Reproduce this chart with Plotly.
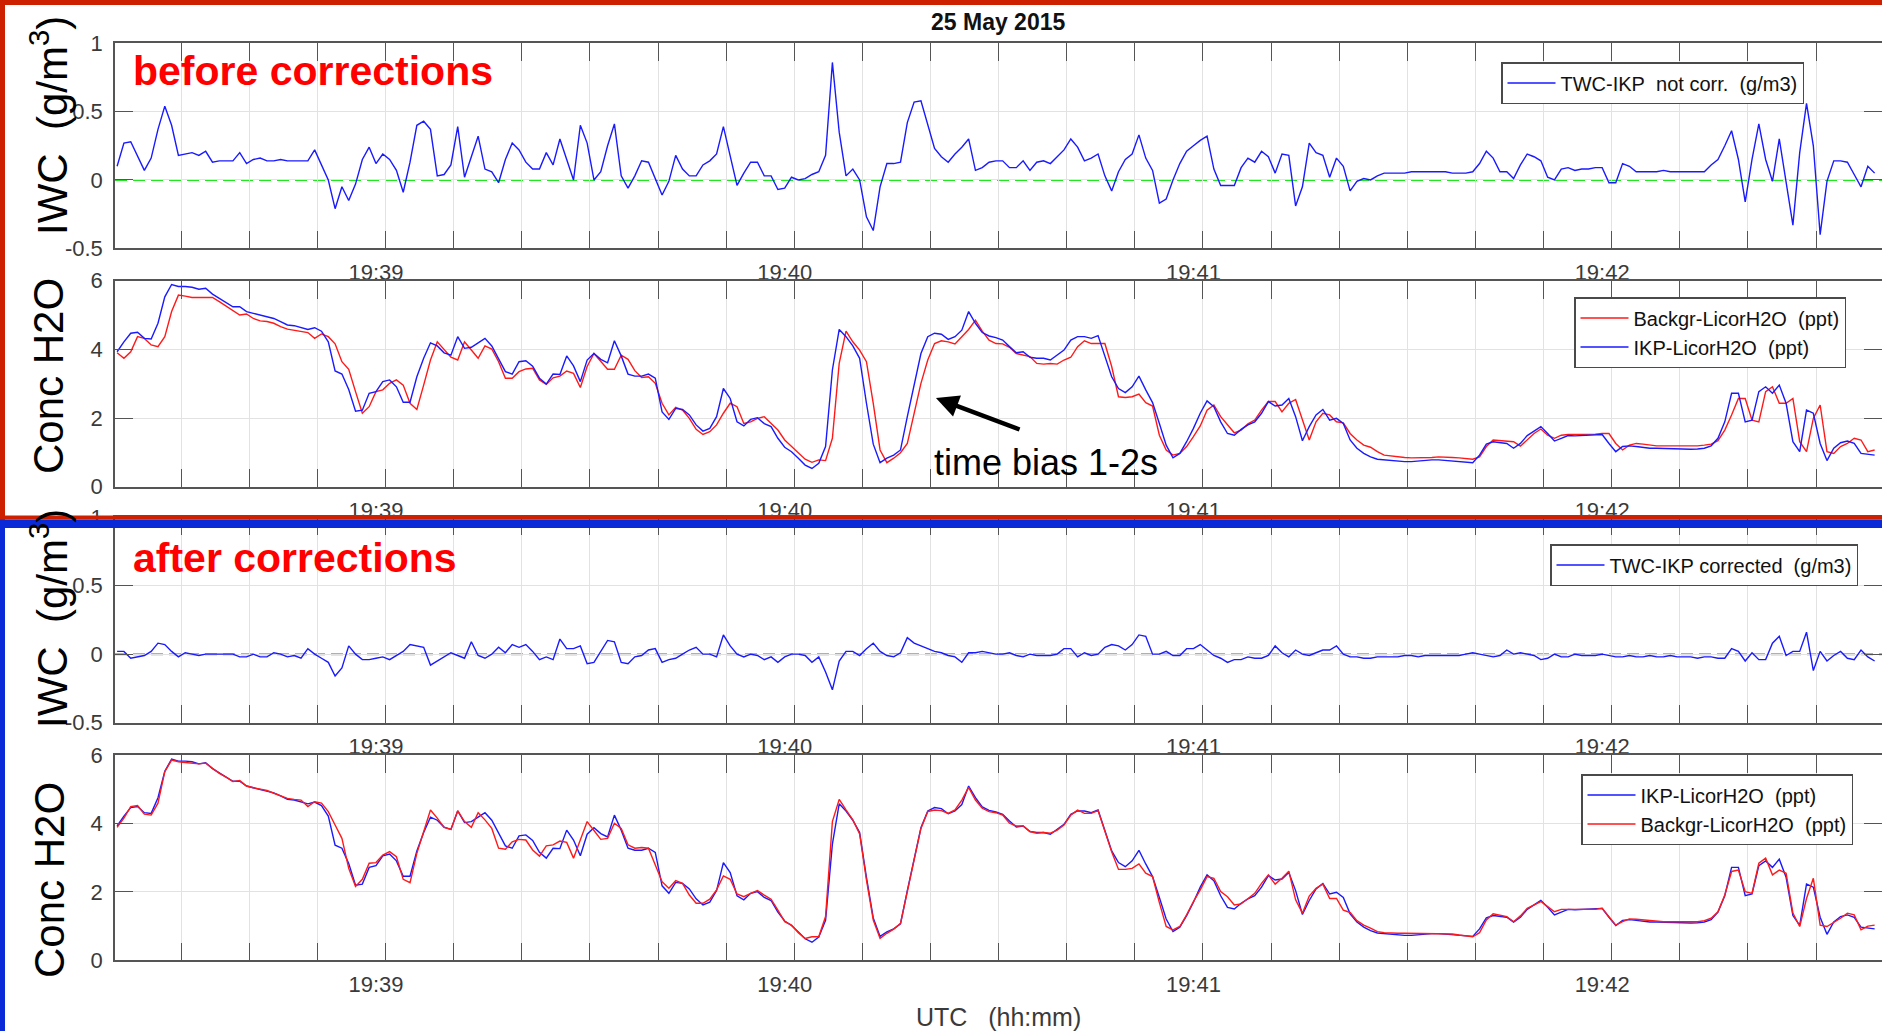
import plotly.graph_objects as go

# ---------------------------------------------------------------------------
# Data: 1 Hz samples, time in seconds after 19:38:00 UTC (25 May 2015)
# ---------------------------------------------------------------------------
t_sec = list(range(22, 281))

# TWC-IKP not corrected (g/m3)
iwc_not_corr = [
    0.10, 0.27, 0.28, 0.17, 0.07, 0.16, 0.37, 0.54, 0.40, 0.18,
    0.19, 0.20, 0.18, 0.21, 0.13, 0.14, 0.14, 0.14, 0.20, 0.12,
    0.15, 0.16, 0.14, 0.14, 0.15, 0.14, 0.14, 0.14, 0.14, 0.22,
    0.11, 0.00, -0.21, -0.05, -0.15, -0.03, 0.15, 0.24, 0.12, 0.19,
    0.15, 0.07, -0.09, 0.13, 0.40, 0.43, 0.37, 0.03, 0.04, 0.11,
    0.39, 0.02, 0.17, 0.32, 0.08, 0.06, -0.02, 0.15, 0.27, 0.22,
    0.13, 0.08, 0.08, 0.20, 0.11, 0.30, 0.15, 0.00, 0.40, 0.27,
    0.00, 0.06, 0.25, 0.41, 0.03, -0.06, 0.03, 0.14, 0.13, 0.01,
    -0.11, -0.01, 0.18, 0.08, 0.03, 0.03, 0.11, 0.14, 0.19, 0.39,
    0.17, -0.04, 0.05, 0.13, 0.13, 0.03, 0.03, -0.07, -0.06, 0.02,
    0.00, 0.01, 0.04, 0.06, 0.18, 0.86, 0.35, 0.03, 0.08, 0.00,
    -0.27, -0.37, -0.05, 0.12, 0.12, 0.13, 0.42, 0.57, 0.58, 0.40,
    0.23, 0.17, 0.13, 0.19, 0.24, 0.30, 0.07, 0.09, 0.13, 0.14,
    0.14, 0.09, 0.09, 0.14, 0.07, 0.13, 0.14, 0.12, 0.17, 0.22,
    0.30, 0.24, 0.14, 0.16, 0.19, 0.03, -0.08, 0.06, 0.15, 0.19,
    0.33, 0.16, 0.07, -0.17, -0.14, 0.00, 0.12, 0.21, 0.25, 0.29,
    0.32, 0.08, -0.04, -0.04, -0.04, 0.09, 0.16, 0.13, 0.21, 0.17,
    0.05, 0.19, 0.18, -0.19, -0.05, 0.27, 0.20, 0.18, 0.02, 0.16,
    0.10, -0.08, -0.01, 0.01, 0.00, 0.03, 0.05, 0.05, 0.05, 0.05,
    0.06, 0.06, 0.06, 0.06, 0.06, 0.06, 0.05, 0.05, 0.05, 0.06,
    0.12, 0.21, 0.16, 0.06, 0.06, 0.01, 0.11, 0.19, 0.17, 0.14,
    0.02, 0.00, 0.08, 0.09, 0.07, 0.08, 0.08, 0.09, 0.09, -0.02,
    -0.02, 0.12, 0.10, 0.06, 0.06, 0.06, 0.06, 0.07, 0.06, 0.06,
    0.06, 0.06, 0.06, 0.06, 0.11, 0.15, 0.25, 0.36, 0.15, -0.16,
    0.15, 0.41, 0.15, -0.01, 0.30, -0.02, -0.33, 0.20, 0.56, 0.25,
    -0.40, -0.01, 0.14, 0.14, 0.13, 0.04, -0.05, 0.10, 0.05,
]

# TWC-IKP corrected (g/m3)
iwc_corr = [
    0.02, 0.02, -0.03, -0.02, -0.01, 0.02, 0.08, 0.07, 0.02, -0.02,
    0.01, 0.00, -0.01, 0.00, 0.00, 0.00, 0.00, 0.00, -0.02, -0.02,
    0.00, -0.02, -0.02, 0.01, 0.00, -0.02, -0.01, -0.03, 0.04, 0.00,
    -0.03, -0.06, -0.16, -0.10, 0.06, 0.00, -0.04, -0.04, -0.03, -0.02,
    -0.04, -0.01, 0.02, 0.07, 0.06, 0.05, -0.08, -0.05, -0.02, 0.01,
    -0.01, -0.03, 0.09, -0.01, -0.03, 0.00, 0.05, 0.01, 0.07, 0.05,
    0.07, 0.02, -0.04, -0.02, -0.04, 0.11, 0.04, 0.04, 0.06, -0.07,
    -0.06, 0.02, 0.10, 0.09, -0.06, -0.07, -0.02, -0.01, 0.03, 0.04,
    -0.06, -0.04, -0.03, 0.00, 0.03, 0.05, 0.00, 0.00, -0.02, 0.14,
    0.06, 0.00, -0.02, 0.00, -0.01, -0.04, -0.02, -0.06, -0.02, 0.00,
    0.00, -0.01, -0.06, -0.02, -0.13, -0.26, -0.05, 0.02, 0.02, -0.01,
    0.04, 0.08, 0.02, -0.01, -0.02, 0.01, 0.12, 0.08, 0.06, 0.04,
    0.02, 0.01, -0.01, -0.02, -0.06, 0.01, 0.01, 0.02, 0.01, 0.00,
    0.00, 0.01, -0.01, -0.02, 0.00, -0.01, -0.01, -0.01, 0.00, 0.04,
    0.04, -0.02, 0.01, -0.01, 0.00, 0.05, 0.07, 0.06, 0.03, 0.07,
    0.14, 0.13, 0.00, 0.00, 0.02, -0.01, -0.01, 0.04, 0.04, 0.07,
    0.03, -0.01, -0.03, -0.06, -0.04, -0.04, -0.02, -0.03, -0.03, -0.01,
    0.06, 0.01, -0.02, 0.03, 0.00, -0.01, 0.01, 0.03, 0.03, 0.06,
    0.00, -0.02, -0.02, -0.03, -0.03, -0.02, -0.02, -0.02, -0.02, -0.01,
    -0.01, -0.02, -0.01, -0.01, -0.01, -0.01, -0.01, -0.01, 0.00, 0.01,
    0.00, -0.01, -0.02, -0.01, 0.03, 0.00, 0.01, 0.00, -0.01, -0.04,
    -0.03, 0.00, -0.02, -0.02, 0.00, -0.01, -0.01, -0.01, 0.00, -0.01,
    -0.02, -0.02, -0.01, -0.02, -0.02, -0.01, -0.02, -0.02, -0.01, -0.02,
    -0.02, -0.02, -0.03, -0.02, -0.02, -0.03, -0.03, 0.04, 0.02, -0.05,
    0.01, -0.04, -0.04, 0.08, 0.13, -0.01, 0.02, 0.02, 0.16, -0.12,
    0.02, -0.05, -0.01, 0.02, -0.03, -0.04, 0.03, -0.02, -0.05,
]

# IKP-LicorH2O (ppt)
h2o_ikp = [
    3.93, 4.22, 4.47, 4.50, 4.32, 4.30, 4.76, 5.53, 5.89, 5.83,
    5.83, 5.81, 5.75, 5.78, 5.61, 5.49, 5.37, 5.24, 5.24, 5.10,
    5.05, 5.00, 4.95, 4.90, 4.81, 4.71, 4.69, 4.63, 4.58, 4.63,
    4.53, 4.22, 3.37, 3.28, 2.83, 2.20, 2.23, 2.72, 2.77, 3.06,
    3.11, 2.91, 2.46, 2.46, 3.20, 3.74, 4.19, 4.10, 3.90, 3.83,
    4.37, 4.03, 4.06, 4.19, 4.32, 4.10, 3.74, 3.35, 3.28, 3.64,
    3.67, 3.51, 3.16, 2.99, 3.28, 3.27, 3.81, 3.52, 3.06, 3.69,
    3.88, 3.71, 3.61, 4.25, 3.81, 3.28, 3.22, 3.22, 3.28, 3.16,
    2.18, 1.96, 2.28, 2.25, 2.09, 1.80, 1.62, 1.70, 2.04, 2.86,
    2.57, 1.89, 1.77, 1.96, 2.01, 1.84, 1.75, 1.41, 1.15, 1.02,
    0.83, 0.63, 0.53, 0.68, 1.17, 3.40, 4.58, 4.37, 4.10, 3.74,
    2.43, 1.24, 0.70, 0.83, 0.92, 1.07, 2.04, 2.96, 3.88, 4.37,
    4.47, 4.44, 4.29, 4.37, 4.56, 5.10, 4.76, 4.49, 4.39, 4.34,
    4.27, 4.08, 3.90, 3.93, 3.77, 3.74, 3.74, 3.69, 3.83, 3.98,
    4.27, 4.37, 4.37, 4.32, 4.40, 3.83, 3.20, 2.86, 2.74, 2.91,
    3.22, 2.82, 2.45, 1.84, 1.21, 0.84, 0.97, 1.31, 1.70, 2.14,
    2.50, 2.33, 1.89, 1.55, 1.50, 1.67, 1.80, 1.89, 2.14, 2.48,
    2.35, 2.38, 2.57, 2.04, 1.34, 1.75, 2.09, 2.25, 1.94, 1.99,
    1.84, 1.36, 1.12, 0.97, 0.87, 0.80, 0.78, 0.76, 0.75, 0.73,
    0.73, 0.75, 0.76, 0.78, 0.78, 0.76, 0.75, 0.73, 0.71, 0.70,
    0.92, 1.24, 1.31, 1.28, 1.26, 1.12, 1.26, 1.49, 1.63, 1.75,
    1.55, 1.33, 1.41, 1.49, 1.48, 1.49, 1.49, 1.50, 1.52, 1.26,
    1.02, 1.17, 1.19, 1.17, 1.14, 1.12, 1.12, 1.11, 1.10, 1.10,
    1.10, 1.09, 1.10, 1.12, 1.19, 1.41, 1.89, 2.72, 2.72, 1.89,
    1.94, 2.77, 2.91, 2.72, 2.96, 2.43, 1.31, 1.02, 2.23, 2.14,
    1.26, 0.76, 1.12, 1.28, 1.33, 1.26, 0.97, 0.95, 0.92,
]

# Backgr-LicorH2O (ppt), original time stamps
h2o_backgr_raw = [
    3.90, 3.74, 3.93, 4.37, 4.32, 4.13, 4.08, 4.37, 5.10, 5.58,
    5.55, 5.51, 5.51, 5.50, 5.51, 5.39, 5.26, 5.15, 5.00, 5.03,
    4.90, 4.83, 4.81, 4.76, 4.66, 4.59, 4.56, 4.53, 4.49, 4.32,
    4.45, 4.37, 4.16, 3.64, 3.42, 2.77, 2.14, 2.33, 2.77, 2.82,
    3.01, 3.11, 2.96, 2.43, 2.25, 2.96, 3.69, 4.22, 3.98, 3.77,
    3.69, 4.22, 3.98, 3.74, 4.10, 4.01, 3.64, 3.16, 3.16, 3.35,
    3.43, 3.45, 3.11, 2.98, 3.17, 3.22, 3.37, 3.30, 2.89, 3.50,
    3.88, 3.64, 3.42, 3.42, 3.83, 3.71, 3.38, 3.18, 3.20, 3.01,
    2.43, 2.09, 2.31, 2.23, 1.99, 1.67, 1.52, 1.60, 1.80, 2.14,
    2.43, 2.33, 1.84, 1.89, 1.99, 2.04, 1.84, 1.65, 1.36, 1.17,
    0.97, 0.80, 0.71, 0.78, 0.76, 1.41, 3.59, 4.53, 4.22, 3.98,
    3.64, 2.43, 1.07, 0.70, 0.83, 0.99, 1.26, 2.14, 3.01, 3.69,
    4.17, 4.25, 4.22, 4.16, 4.37, 4.58, 4.85, 4.53, 4.27, 4.17,
    4.16, 4.06, 3.88, 3.83, 3.79, 3.59, 3.57, 3.59, 3.57, 3.69,
    3.77, 4.08, 4.25, 4.17, 4.17, 4.17, 3.50, 2.62, 2.60, 2.62,
    2.70, 2.45, 2.35, 1.50, 1.07, 0.92, 0.97, 1.17, 1.46, 1.77,
    2.23, 2.38, 2.04, 1.80, 1.57, 1.65, 1.83, 1.94, 2.23, 2.48,
    2.48, 2.18, 2.43, 2.54, 1.94, 1.36, 1.89, 2.14, 2.09, 1.89,
    1.86, 1.55, 1.36, 1.21, 1.15, 1.02, 0.92, 0.89, 0.87, 0.85,
    0.84, 0.84, 0.85, 0.85, 0.87, 0.87, 0.85, 0.84, 0.83, 0.80,
    0.87, 1.17, 1.36, 1.34, 1.34, 1.31, 1.18, 1.36, 1.55, 1.68,
    1.50, 1.41, 1.50, 1.52, 1.52, 1.52, 1.53, 1.53, 1.55, 1.55,
    1.26, 1.07, 1.21, 1.26, 1.24, 1.21, 1.19, 1.19, 1.19, 1.18,
    1.18, 1.18, 1.19, 1.21, 1.24, 1.34, 1.65, 2.09, 2.57, 2.57,
    1.94, 1.89, 2.77, 2.91, 2.43, 2.43, 2.57, 1.31, 1.02, 1.99,
    2.38, 1.02, 0.97, 1.17, 1.26, 1.41, 1.36, 1.02, 1.07,
]

# Backgr-LicorH2O (ppt), after time-bias correction
h2o_backgr_corr = [
    3.89, 4.16, 4.50, 4.53, 4.28, 4.25, 4.60, 5.52, 5.86, 5.81,
    5.79, 5.77, 5.75, 5.77, 5.62, 5.47, 5.36, 5.23, 5.26, 5.10,
    5.05, 5.00, 4.97, 4.89, 4.81, 4.74, 4.71, 4.69, 4.50, 4.64,
    4.60, 4.35, 3.96, 3.57, 2.69, 2.16, 2.37, 2.84, 2.86, 3.08,
    3.18, 3.03, 2.37, 2.27, 3.13, 3.77, 4.40, 4.16, 3.89, 3.83,
    4.38, 4.06, 3.89, 4.32, 4.11, 3.86, 3.28, 3.25, 3.47, 3.54,
    3.52, 3.23, 3.05, 3.35, 3.38, 3.49, 3.45, 2.99, 3.52, 4.06,
    3.80, 3.54, 3.57, 4.01, 3.86, 3.38, 3.28, 3.30, 3.28, 2.76,
    2.30, 2.11, 2.33, 2.25, 1.91, 1.67, 1.67, 1.79, 2.06, 2.47,
    2.37, 1.94, 1.86, 1.96, 2.04, 1.91, 1.79, 1.47, 1.13, 1.03,
    0.81, 0.64, 0.69, 0.69, 1.28, 4.06, 4.71, 4.40, 4.11, 3.70,
    2.35, 1.18, 0.64, 0.79, 0.91, 1.08, 2.06, 2.94, 3.86, 4.35,
    4.40, 4.38, 4.30, 4.40, 4.69, 5.06, 4.69, 4.45, 4.35, 4.32,
    4.25, 4.01, 3.93, 3.93, 3.77, 3.72, 3.74, 3.72, 3.81, 3.96,
    4.25, 4.40, 4.30, 4.30, 4.38, 3.77, 3.18, 2.66, 2.66, 2.69,
    2.82, 2.55, 2.45, 1.69, 0.99, 0.89, 0.99, 1.33, 1.72, 2.06,
    2.45, 2.40, 2.01, 1.86, 1.62, 1.65, 1.81, 1.96, 2.25, 2.50,
    2.23, 2.40, 2.61, 1.77, 1.38, 1.88, 2.11, 2.23, 1.81, 1.81,
    1.47, 1.40, 1.16, 1.03, 0.94, 0.84, 0.81, 0.79, 0.79, 0.79,
    0.79, 0.79, 0.79, 0.79, 0.79, 0.79, 0.77, 0.74, 0.71, 0.69,
    0.81, 1.18, 1.36, 1.33, 1.28, 1.13, 1.30, 1.52, 1.62, 1.72,
    1.57, 1.42, 1.49, 1.49, 1.49, 1.49, 1.49, 1.49, 1.52, 1.28,
    1.03, 1.13, 1.21, 1.20, 1.18, 1.15, 1.13, 1.13, 1.13, 1.13,
    1.13, 1.13, 1.13, 1.16, 1.23, 1.42, 1.91, 2.60, 2.64, 2.01,
    1.96, 2.84, 2.99, 2.50, 2.64, 2.55, 1.38, 0.99, 1.81, 2.40,
    1.03, 0.99, 1.10, 1.23, 1.38, 1.33, 0.89, 1.00, 1.03,
]

# Axis ticks
minute_ticks = [60, 120, 180, 240]
minute_labels = ["19:39", "19:40", "19:41", "19:42"]
iwc_ticks = [-0.5, 0, 0.5, 1]
iwc_tick_labels = ["-0.5", "0", "0.5", "1"]
conc_ticks = [0, 2, 4, 6]
conc_tick_labels = ["0", "2", "4", "6"]

for series in (iwc_not_corr, iwc_corr, h2o_ikp, h2o_backgr_raw, h2o_backgr_corr):
    assert len(series) == len(t_sec), len(series)

# ---------------------------------------------------------------------------
# Page geometry (pixels)
# ---------------------------------------------------------------------------
W, H = 1882, 1031
ML = 115
FONT = "Liberation Sans, Arial, Helvetica, sans-serif"
BLUE = "#1a1aff"
RED = "#ff1a1a"
GREEN = "#1fe81f"
AXIS_GREY = "#555555"
GRID_GREY = "#e2e2e2"
TICK_FONT = dict(family=FONT, size=22, color="#3a3a3a")


def xp(px):
    return (px - ML) / (W - ML)


def yp(py):
    return 1 - py / H


panel_px = [(43.3, 248.3), (280.7, 486.7), (517.0, 722.7), (755.3, 960.3)]
x_range = [21.69, 281.08]

fig = go.Figure()

# Panel 1: IWC before correction
fig.add_trace(go.Scatter(x=t_sec, y=iwc_not_corr, mode="lines",
                         line=dict(color=BLUE, width=1.4),
                         name="TWC-IKP\u00a0\u00a0not corr.\u00a0\u00a0(g/m3)",
                         xaxis="x", yaxis="y", legend="legend"))
# Panel 2: H2O before correction
fig.add_trace(go.Scatter(x=t_sec, y=h2o_backgr_raw, mode="lines",
                         line=dict(color=RED, width=1.4),
                         name="Backgr-LicorH2O\u00a0\u00a0(ppt)",
                         xaxis="x2", yaxis="y2", legend="legend2"))
fig.add_trace(go.Scatter(x=t_sec, y=h2o_ikp, mode="lines",
                         line=dict(color=BLUE, width=1.4),
                         name="IKP-LicorH2O\u00a0\u00a0(ppt)",
                         xaxis="x2", yaxis="y2", legend="legend2"))
# Panel 3: IWC after correction
fig.add_trace(go.Scatter(x=t_sec, y=iwc_corr, mode="lines",
                         line=dict(color=BLUE, width=1.4),
                         name="TWC-IKP corrected\u00a0\u00a0(g/m3)",
                         xaxis="x3", yaxis="y3", legend="legend3"))
# Panel 4: H2O after correction
fig.add_trace(go.Scatter(x=t_sec, y=h2o_ikp, mode="lines",
                         line=dict(color=BLUE, width=1.4),
                         name="IKP-LicorH2O\u00a0\u00a0(ppt)",
                         xaxis="x4", yaxis="y4", legend="legend4"))
fig.add_trace(go.Scatter(x=t_sec, y=h2o_backgr_corr, mode="lines",
                         line=dict(color=RED, width=1.4),
                         name="Backgr-LicorH2O\u00a0\u00a0(ppt)",
                         xaxis="x4", yaxis="y4", legend="legend4"))

layout = dict(
    width=W, height=H,
    margin=dict(l=ML, r=0, t=0, b=0, autoexpand=False),
    paper_bgcolor="white", plot_bgcolor="white",
    font=dict(family=FONT, color="#222"),
    showlegend=True,
)

for i, (top, bot) in enumerate(panel_px, start=1):
    sfx = "" if i == 1 else str(i)
    is_iwc = i in (1, 3)
    layout["xaxis" + sfx] = dict(
        domain=[0, 1], anchor="y" + sfx, range=x_range, automargin=False,
        tickmode="array", tickvals=minute_ticks, ticktext=minute_labels,
        ticks="inside", ticklen=2, tickcolor="rgba(0,0,0,0)",
        showgrid=False, zeroline=False,
        showline=True, linecolor=AXIS_GREY, linewidth=1.6, mirror="ticks",
        tickfont=TICK_FONT, ticklabelstandoff=3,
        minor=dict(tickmode="linear", tick0=1.4, dtick=10, ticks="inside",
                   ticklen=18, tickcolor=AXIS_GREY, tickwidth=1.3,
                   showgrid=True, gridcolor=GRID_GREY, gridwidth=1),
    )
    layout["yaxis" + sfx] = dict(
        domain=[yp(bot), yp(top)], anchor="x" + sfx, automargin=False,
        range=[-0.5, 1] if is_iwc else [0, 6],
        tickmode="array",
        tickvals=iwc_ticks if is_iwc else conc_ticks,
        ticktext=iwc_tick_labels if is_iwc else conc_tick_labels,
        ticks="inside", ticklen=18, tickcolor=AXIS_GREY, tickwidth=1.3,
        showgrid=True, gridcolor=GRID_GREY, gridwidth=1, zeroline=False,
        showline=True, linecolor=AXIS_GREY, linewidth=1.6, mirror="ticks",
        tickfont=TICK_FONT, ticklabelstandoff=6,
    )

legend_style = dict(xanchor="right", yanchor="top", bgcolor="white",
                    bordercolor="#4a4a4a", borderwidth=1.5,
                    font=dict(family=FONT, size=20, color="#111"),
                    itemwidth=48, tracegroupgap=0)
layout["legend"] = dict(x=xp(1804), y=yp(62), **legend_style)
layout["legend2"] = dict(x=xp(1846), y=yp(297), **legend_style)
layout["legend3"] = dict(x=xp(1858), y=yp(544), **legend_style)
layout["legend4"] = dict(x=xp(1853), y=yp(774), **legend_style)

shapes = []
# dashed zero reference on the IWC panels
for sfx in ("", "3"):
    shapes.append(dict(type="line", xref="x" + sfx + " domain", yref="y" + sfx,
                       x0=0, x1=1, y0=0, y1=0, layer="below",
                       line=dict(color=GREEN, width=2, dash="12px,6px")))


def band(x0, y0, x1, y1, color):
    return dict(type="rect", xref="paper", yref="paper",
                x0=xp(x0), x1=xp(x1), y0=yp(y1), y1=yp(y0),
                fillcolor=color, line=dict(width=0), layer="above")


FRAME_RED = "#cc2000"
FRAME_BLUE = "#0a2ad8"
shapes += [
    band(0, 0, W, 5, FRAME_RED),
    band(0, 0, 5, 519.5, FRAME_RED),
    band(0, 515.5, W, 519.5, FRAME_RED),
    band(0, 519.5, W, 528, FRAME_BLUE),
    band(0, 519.5, 5, H, FRAME_BLUE),
]
layout["shapes"] = shapes

big_label = dict(family=FONT, size=42, color="black")
annotations = [
    dict(text="<b>25 May 2015</b>", x=xp(998), y=yp(22), xref="paper", yref="paper",
         xanchor="center", yanchor="middle", showarrow=False,
         font=dict(family=FONT, size=23, color="#111")),
    dict(text="<b>before corrections</b>", x=xp(131), y=yp(71), xref="paper", yref="paper",
         xanchor="left", yanchor="middle", showarrow=False,
         font=dict(family=FONT, size=41, color="#ff0000")),
    dict(text="<b>after corrections</b>", x=xp(131), y=yp(558), xref="paper", yref="paper",
         xanchor="left", yanchor="middle", showarrow=False,
         font=dict(family=FONT, size=41, color="#ff0000")),
    dict(text="IWC\u00a0\u00a0(g/m<sup>3</sup>)", x=xp(49), y=yp(126), xref="paper", yref="paper",
         xanchor="center", yanchor="middle", textangle=-90, showarrow=False, font=big_label),
    dict(text="Conc H2O", x=xp(49), y=yp(376), xref="paper", yref="paper",
         xanchor="center", yanchor="middle", textangle=-90, showarrow=False, font=big_label),
    dict(text="IWC\u00a0\u00a0(g/m<sup>3</sup>)", x=xp(49), y=yp(619), xref="paper", yref="paper",
         xanchor="center", yanchor="middle", textangle=-90, showarrow=False, font=big_label),
    dict(text="Conc H2O", x=xp(49), y=yp(880), xref="paper", yref="paper",
         xanchor="center", yanchor="middle", textangle=-90, showarrow=False, font=big_label),
    dict(text="UTC\u00a0\u00a0\u00a0(hh:mm)", x=xp(999), y=yp(1017), xref="paper", yref="paper",
         xanchor="center", yanchor="middle", showarrow=False,
         font=dict(family=FONT, size=25, color="#3a3a3a")),
    dict(text="time bias 1-2s", x=xp(932), y=yp(463), xref="paper", yref="paper",
         xanchor="left", yanchor="middle", showarrow=False,
         font=dict(family=FONT, size=36, color="black")),
    # arrow pointing at the lagging rise
    dict(text="", x=142.2, y=2.58, xref="x2", yref="y2",
         ax=154.7, ay=1.65, axref="x2", ayref="y2",
         showarrow=True, arrowhead=2, arrowsize=1.0, arrowwidth=4.5,
         arrowcolor="black", standoff=0),
]
layout["annotations"] = annotations

fig.update_layout(**layout)
fig.write_html("out.html")
